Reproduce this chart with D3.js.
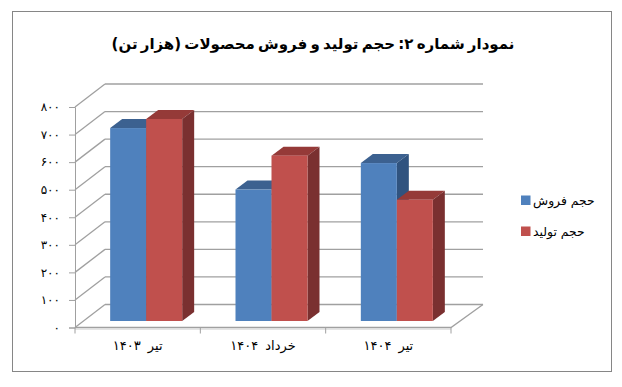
<!DOCTYPE html>
<html>
<head>
<meta charset="utf-8">
<script src="https://d3js.org/d3.v7.min.js"></script>
<style>
  html, body { margin: 0; padding: 0; background: #fff; }
  svg { display: block; }
  text { font-family: "DejaVu Sans", sans-serif; fill: #000; }
</style>
</head>
<body>
<svg width="622" height="387"></svg>
<script>
const chartTitle = "نمودار شماره ۲: حجم تولید و فروش محصولات (هزار تن)";
const categories = ["تیر ۱۴۰۳", "خرداد ۱۴۰۴", "تیر ۱۴۰۴"];
const seriesNames = ["حجم فروش", "حجم تولید"];
const salesValues = [700, 477, 573];
const productionValues = [733, 600, 440];
const yTicks = [0, 100, 200, 300, 400, 500, 600, 700, 800];
const yTickLabels = ["۰", "۱۰۰", "۲۰۰", "۳۰۰", "۴۰۰", "۵۰۰", "۶۰۰", "۷۰۰", "۸۰۰"];

const faces = [
  { front: "#4f81bd", top: "#3c6190", side: "#30537f" },
  { front: "#c0504d", top: "#953a38", side: "#7a3030" }
];

const area = { left: 75, right: 451, top: 107, bottom: 327.5, depthX: 30, depthY: 23 };
const barDepth = { x: 12, y: 9 };
const barShift = { x: 8.5, y: 6.5 };
const gridColor = "#a0a0a0";

const svg = d3.select("svg");

svg.append("rect")
  .attr("x", 12.5).attr("y", 11.5)
  .attr("width", 599).attr("height", 360)
  .attr("fill", "#fff").attr("stroke", "#868686");

svg.append("text")
  .attr("x", 313).attr("y", 49)
  .attr("text-anchor", "middle")
  .style("font-size", "15px").style("font-weight", "bold").style("word-spacing", "-2px")
  .text(chartTitle);

const scaleX = d3.scaleBand().domain(categories).range([area.left, area.right]);
const scaleY = d3.scaleLinear().domain([0, 800]).range([area.bottom, area.top]);
const scaleSeries = d3.scaleBand().domain(seriesNames).range([0, 72]);

// walls: diagonal on the left side and the line on the back
const grid = svg.append("g").attr("stroke", gridColor).attr("stroke-width", 1.3).attr("fill", "none");
yTicks.forEach(t => {
  const y = scaleY(t);
  grid.append("path").attr("d", `M${area.left},${y}L${area.left + area.depthX},${y - area.depthY}`);
  grid.append("path").attr("d", `M${area.left + area.depthX},${y - area.depthY}H${area.right + area.depthX + 2}`);
});
grid.append("path").attr("d",
  `M${area.left},${area.bottom}H${area.right}L${area.right + area.depthX + 2},${area.bottom - area.depthY}`);
grid.append("path")
  .attr("d", `M${area.left},${area.bottom + 1.5}H${area.right}`)
  .attr("stroke", "#dcdcdc");

const axisY = d3.axisLeft(scaleY)
  .tickValues(yTicks)
  .tickSize(6)
  .tickPadding(9)
  .tickFormat((d, i) => yTickLabels[i]);

const gY = svg.append("g").attr("transform", `translate(${area.left},0)`).call(axisY);
gY.selectAll("path, line").attr("stroke", gridColor);
gY.selectAll("text").style("font-size", "12px").style("letter-spacing", "5px").attr("fill", "#000");

const axisX = d3.axisBottom(scaleX).tickSize(0).tickPadding(13);
const gX = svg.append("g").attr("transform", `translate(0,${area.bottom})`).call(axisX);
gX.select("path").remove();
gX.selectAll("text").style("font-size", "13px").style("word-spacing", "3px").style("letter-spacing", "0.6px").attr("fill", "#000");

const tickX = categories.map(c => scaleX(c)).concat(area.right);
gX.selectAll(".edge")
  .data(tickX)
  .enter()
  .append("line")
  .attr("class", "edge")
  .attr("x1", d => d).attr("x2", d => d)
  .attr("y1", 0).attr("y2", 6)
  .attr("stroke", gridColor);

const drawSeries = (values, name, color) => {
  const g = svg.append("g");
  const bw = scaleSeries.bandwidth();
  const left = c => scaleX(c) + scaleX.bandwidth() / 2 + barShift.x + scaleSeries(name) - 36;
  const rows = categories.map((c, i) => ({
    x: left(c),
    yTop: scaleY(values[i]) - barShift.y,
    yBot: scaleY(0) - barShift.y
  }));

  g.selectAll(".top").data(rows).enter().append("path")
    .attr("d", d => `M${d.x},${d.yTop}l${barDepth.x},${-barDepth.y}h${bw}l${-barDepth.x},${barDepth.y}Z`)
    .attr("fill", color.top);

  g.selectAll(".side").data(rows).enter().append("path")
    .attr("d", d => `M${d.x + bw},${d.yTop}l${barDepth.x},${-barDepth.y}V${d.yBot - barDepth.y}l${-barDepth.x},${barDepth.y}Z`)
    .attr("fill", color.side);

  g.selectAll(".front").data(rows).enter().append("rect")
    .attr("x", d => d.x).attr("y", d => d.yTop)
    .attr("width", bw).attr("height", d => d.yBot - d.yTop)
    .attr("fill", color.front);
};

drawSeries(salesValues, seriesNames[0], faces[0]);
drawSeries(productionValues, seriesNames[1], faces[1]);

const legend = svg.append("g");
const legendY = d3.scalePoint().domain(seriesNames).range([200.5, 231.5]);
seriesNames.forEach((name, i) => {
  legend.append("rect")
    .attr("x", 521).attr("y", legendY(name) - 5)
    .attr("width", 9.5).attr("height", 9.5)
    .attr("fill", faces[i].front);
  legend.append("text")
    .attr("x", 533).attr("y", legendY(name) + 4)
    .style("font-size", "12.4px")
    .text(name);
});
</script>
</body>
</html>
